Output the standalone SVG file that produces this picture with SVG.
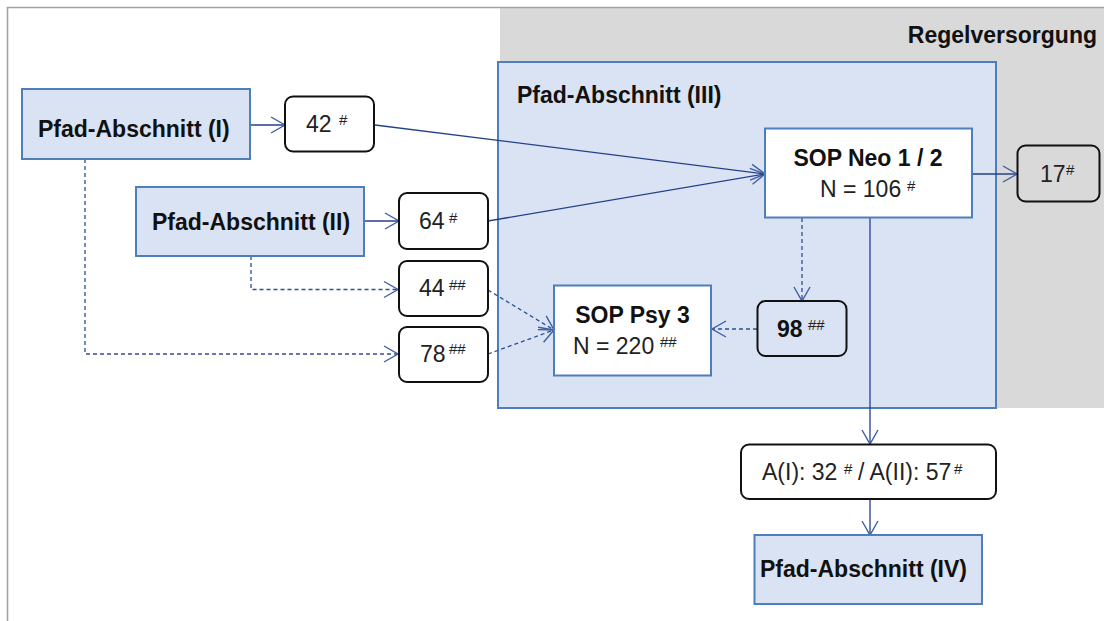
<svg xmlns="http://www.w3.org/2000/svg" width="1104" height="621" viewBox="0 0 1104 621">
  <style>
    .bold { font-family: "Liberation Sans", Arial, sans-serif; font-weight: bold; font-size: 23px; fill: #111; }
    .reg { font-family: "Liberation Sans", Arial, sans-serif; font-size: 23px; fill: #222; }
    .sup { font-family: "Liberation Sans", Arial, sans-serif; font-size: 15px; fill: #222; }
    .phase { fill: #dae3f3; stroke: #4f7fbb; stroke-width: 2; }
    .sop { fill: #ffffff; stroke: #4f7fbb; stroke-width: 2; }
    .count { fill: none; stroke: #111; stroke-width: 2; }
    .solid { fill: none; stroke: #23408a; stroke-width: 1.3; marker-end: url(#open); }
    .dash { fill: none; stroke: #2f4f94; stroke-width: 1.3; stroke-dasharray: 4 3; marker-end: url(#open); }
  </style>
  <defs>
    <marker id="open" markerUnits="userSpaceOnUse" viewBox="-16 -10 18 20" refX="0" refY="0" markerWidth="18" markerHeight="20" orient="auto" overflow="visible">
      <path d="M-14,-8 L0,0 L-14,8" fill="none" stroke="#3d5ea3" stroke-width="1.4" stroke-dasharray="none"/>
    </marker>
  </defs>

  <!-- page frame -->
  <rect x="0" y="0" width="1104" height="621" fill="#ffffff"/>
  <g id="regelversorgung">
    <rect x="500" y="8" width="604" height="400" fill="#d9d9d9"/>
    <text class="bold" x="1097" y="43" font-size="22" text-anchor="end">Regelversorgung</text>
  </g>
  <path d="M7.5,621 V7.5 H1104" fill="none" stroke="#a3a3a3" stroke-width="1.6"/>

  <g id="pfad-III">
    <rect class="phase" x="498" y="62" width="498" height="346"/>
    <text class="bold" x="517" y="103">Pfad-Abschnitt (III)</text>
  </g>

  <!-- connectors -->
  <g id="connectors">
    <line class="solid" x1="251" y1="125" x2="285" y2="125"/>
    <line class="solid" x1="364" y1="221" x2="399" y2="221"/>
    <line class="solid" x1="375" y1="125" x2="765" y2="174"/>
    <line class="solid" x1="488" y1="221" x2="765" y2="174"/>
    <line class="solid" x1="972" y1="174" x2="1017" y2="174"/>
    <line class="solid" x1="870" y1="218" x2="870" y2="444"/>
    <line class="solid" x1="870" y1="499" x2="870" y2="535"/>
    <path class="dash" d="M251,256 V289.5 H398"/>
    <path class="dash" d="M85,159 V354 H398"/>
    <line class="dash" x1="488" y1="290" x2="554" y2="330"/>
    <line class="dash" x1="488" y1="354" x2="554" y2="330"/>
    <line class="dash" x1="802" y1="218" x2="802" y2="301"/>
    <line class="dash" x1="757" y1="329" x2="712" y2="329"/>
  </g>

  <g id="pfad-I">
    <rect class="phase" x="22" y="89" width="228" height="70"/>
    <text class="bold" x="38" y="137">Pfad-Abschnitt (I)</text>
  </g>
  <g id="pfad-II">
    <rect class="phase" x="136" y="187" width="228" height="69"/>
    <text class="bold" x="152" y="229.5">Pfad-Abschnitt (II)</text>
  </g>

  <g id="n42">
    <rect class="count" x="285" y="96.5" width="89" height="55" rx="8"/>
    <text class="reg" x="306" y="132">42</text>
    <text class="sup" x="339" y="125">#</text>
  </g>
  <g id="n64">
    <rect class="count" x="399" y="193" width="89" height="56" rx="8"/>
    <text class="reg" x="419" y="229">64</text>
    <text class="sup" x="449" y="223">#</text>
  </g>
  <g id="n44">
    <rect class="count" x="399" y="261" width="89" height="55" rx="8"/>
    <text class="reg" x="419" y="296">44</text>
    <text class="sup" x="449" y="290">##</text>
  </g>
  <g id="n78">
    <rect class="count" x="399" y="327" width="89" height="55" rx="8"/>
    <text class="reg" x="420" y="362">78</text>
    <text class="sup" x="449" y="354">##</text>
  </g>

  <g id="sop-neo">
    <rect class="sop" x="765" y="128.5" width="207" height="89"/>
    <text class="bold" x="868" y="165.5" text-anchor="middle">SOP Neo 1 / 2</text>
    <text class="reg" x="820" y="197" font-size="22">N = 106</text>
    <text class="sup" x="907" y="191">#</text>
  </g>

  <g id="n17">
    <rect class="count" x="1017.5" y="145.5" width="82" height="56" rx="8"/>
    <text class="reg" x="1040" y="182">17</text>
    <text class="sup" x="1066" y="175">#</text>
  </g>

  <g id="sop-psy">
    <rect class="sop" x="554" y="285.5" width="157" height="90"/>
    <text class="bold" x="632.5" y="323" text-anchor="middle" font-size="22">SOP Psy 3</text>
    <text class="reg" x="573" y="354" font-size="22">N = 220</text>
    <text class="sup" x="660" y="347">##</text>
  </g>

  <g id="n98">
    <rect class="count" x="757.5" y="301" width="89" height="55" rx="8"/>
    <text class="bold" x="777" y="337" font-size="24">98</text>
    <text class="sup" x="808" y="330">##</text>
  </g>

  <g id="n-a">
    <rect class="count" x="741" y="444.5" width="255" height="54.5" rx="8"/>
    <text class="reg" x="762" y="480" font-size="24">A(I): 32</text>
    <text class="sup" x="844" y="474">#</text>
    <text class="reg" x="858" y="480" font-size="24">/ A(II): 57</text>
    <text class="sup" x="954" y="474">#</text>
  </g>

  <g id="pfad-IV">
    <rect class="phase" x="754.5" y="535" width="227.5" height="69"/>
    <text class="bold" x="760" y="577">Pfad-Abschnitt (IV)</text>
  </g>
</svg>
